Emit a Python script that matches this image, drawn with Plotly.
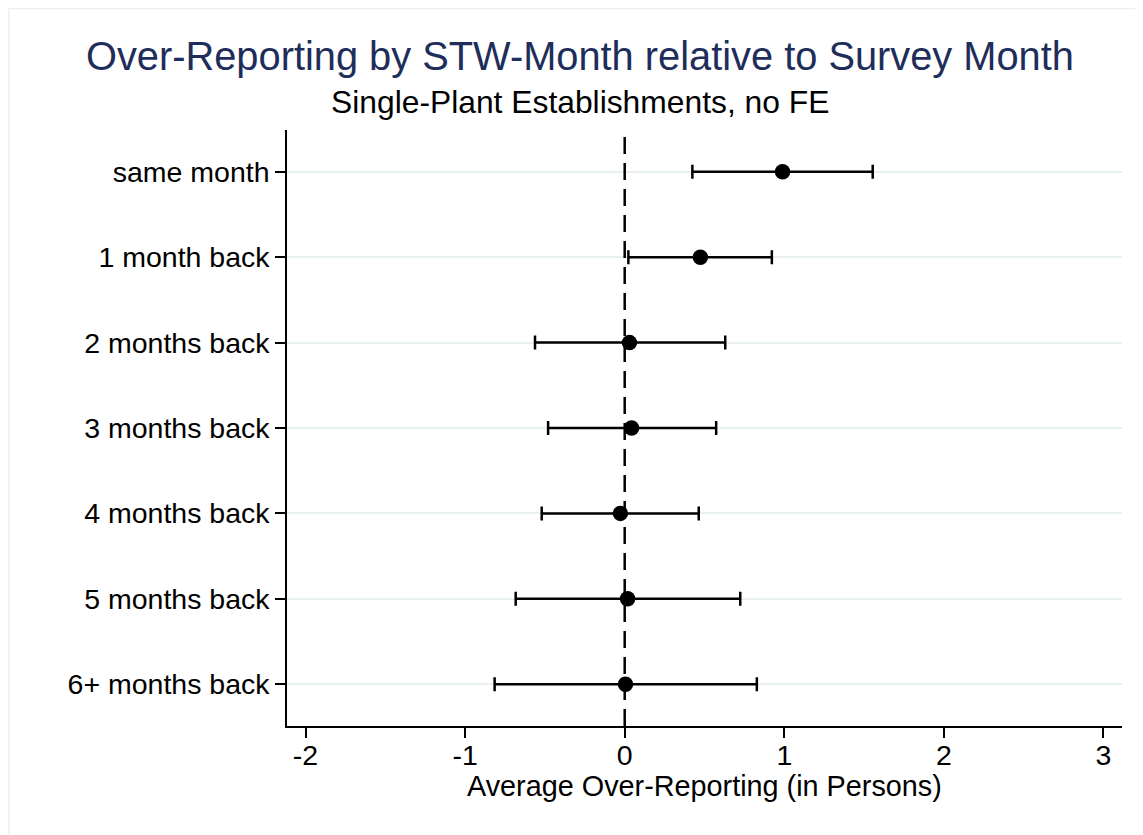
import plotly.graph_objects as go

categories = ["same month", "1 month back", "2 months back", "3 months back",
              "4 months back", "5 months back", "6+ months back"]
estimates = [0.989, 0.474, 0.030, 0.043, -0.027, 0.018, 0.005]
ci_low = [0.424, 0.023, -0.562, -0.480, -0.520, -0.683, -0.815]
ci_high = [1.554, 0.922, 0.630, 0.573, 0.464, 0.724, 0.828]
x_ticks = [-2, -1, 0, 1, 2, 3]

ypos = list(range(len(categories)))
err_plus = [h - e for h, e in zip(ci_high, estimates)]
err_minus = [e - l for e, l in zip(estimates, ci_low)]

FONT = "Arial, 'Liberation Sans', sans-serif"
GRID = "#e8f0f2"

fig = go.Figure()
fig.add_trace(go.Scatter(
    x=estimates, y=ypos, mode="markers",
    marker=dict(color="black", size=15.5),
    error_x=dict(type="data", array=err_plus, arrayminus=err_minus,
                 color="black", thickness=2.5, width=7),
    showlegend=False, hoverinfo="skip"))

# reference line at zero
fig.add_shape(type="line", xref="x", yref="paper", x0=0, x1=0, y0=0, y1=1,
              line=dict(color="black", width=2.5, dash="17px,9px"), layer="above")

# outer graph-region border
fig.add_shape(type="rect", xref="paper", yref="paper",
              x0=-0.3329, x1=1.1, y0=-0.3, y1=1.2039,
              line=dict(color=GRID, width=1.5), layer="below")

fig.update_layout(
    width=1143, height=835,
    margin=dict(l=279, r=29, t=122, b=117),
    paper_bgcolor="white", plot_bgcolor="white",
    font=dict(family=FONT, color="black"),
    annotations=[
        dict(text="Over-Reporting by STW-Month relative to Survey Month",
             xref="paper", yref="paper", x=0.3509, y=1.1242,
             xanchor="center", yanchor="middle", showarrow=False,
             font=dict(size=39.8, color="#1e2d5a", family=FONT)),
        dict(text="Single-Plant Establishments, no FE",
             xref="paper", yref="paper", x=0.3509, y=1.047,
             xanchor="center", yanchor="middle", showarrow=False,
             font=dict(size=31.8, color="black", family=FONT)),
        dict(text="Average Over-Reporting (in Persons)",
             xref="paper", yref="paper", x=0.5, y=-0.1007,
             xanchor="center", yanchor="middle", showarrow=False,
             font=dict(size=28.8, color="black", family=FONT)),
    ],
)

fig.update_xaxes(
    range=[-2.116, 3.116], tickvals=x_ticks, ticktext=[str(t) for t in x_ticks],
    showgrid=False, zeroline=False, showline=True, linecolor="black", linewidth=1.5,
    ticks="outside", ticklen=10, tickwidth=1.5, tickcolor="black",
    ticklabelstandoff=-7,
    tickfont=dict(size=28.5, family=FONT, color="black"))

fig.update_yaxes(
    range=[len(categories) - 0.51, -0.49], tickvals=ypos, ticktext=categories,
    showgrid=True, gridcolor=GRID, gridwidth=2, zeroline=False,
    showline=True, linecolor="black", linewidth=1.5,
    ticks="outside", ticklen=10, tickwidth=1.5, tickcolor="black",
    tickfont=dict(size=28.5, family=FONT, color="black"))

fig.write_html("out.html")
